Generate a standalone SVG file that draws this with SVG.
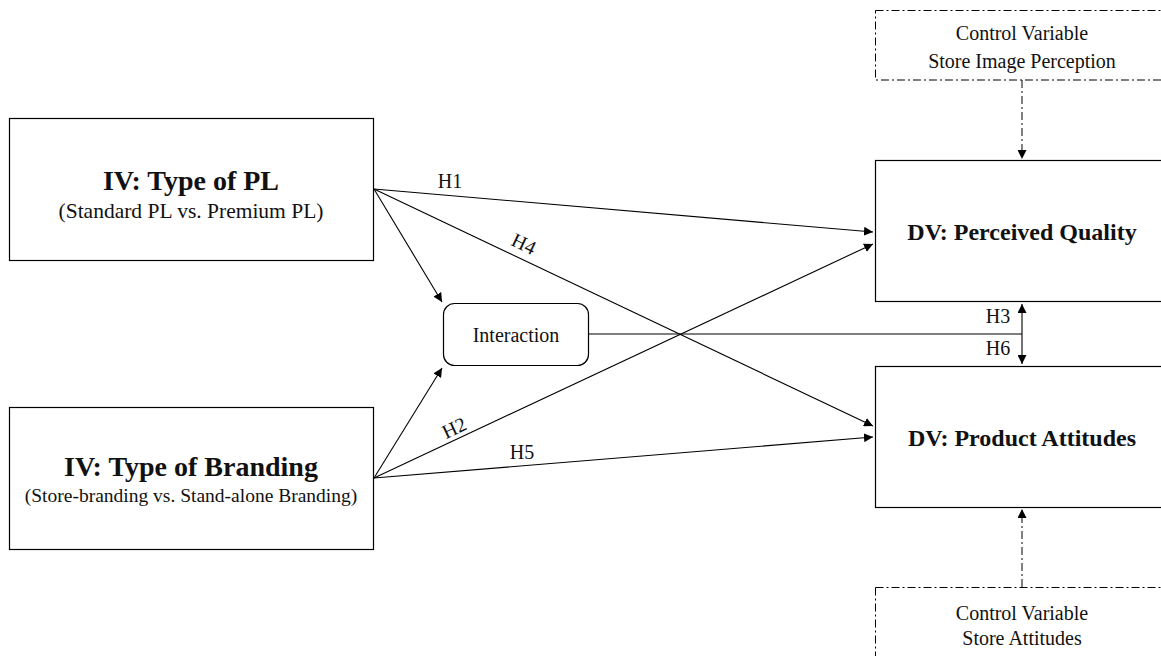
<svg xmlns="http://www.w3.org/2000/svg" width="1161" height="656" viewBox="0 0 1161 656">
  <defs>
    <marker id="arrow" viewBox="0 0 10 10" refX="10" refY="5" markerWidth="9" markerHeight="9" markerUnits="userSpaceOnUse" orient="auto-start-reverse">
      <path d="M0,0 L10,5 L0,10 z" fill="#000"/>
    </marker>
    <style>
      .box { fill: #fff; stroke: #000; stroke-width: 1.2; }
      .ctrl { fill: #fff; stroke: #000; stroke-width: 1; stroke-dasharray: 8 3 2 3; }
      .edge { fill: none; stroke: #000; stroke-width: 1.1; }
      .dash { fill: none; stroke: #000; stroke-width: 1; stroke-dasharray: 8 3 2 3; }
      text { font-family: "Liberation Serif", "DejaVu Serif", serif; fill: #111; text-anchor: middle; }
      .big { font-size: 28px; font-weight: bold; }
      .dv { font-size: 24px; font-weight: bold; }
      .sub { font-size: 21.5px; }
      .sub2 { font-size: 19.5px; }
      .small { font-size: 20px; }
      .lbl { font-size: 20px; }
    </style>
  </defs>

  <!-- connectors -->
  <g id="connectors">
    <line class="edge" x1="374" y1="189" x2="873" y2="232" marker-end="url(#arrow)"/>
    <line class="edge" x1="374" y1="189" x2="873" y2="426" marker-end="url(#arrow)"/>
    <line class="edge" x1="374" y1="189" x2="442" y2="302" marker-end="url(#arrow)"/>
    <line class="edge" x1="374" y1="478" x2="442" y2="368" marker-end="url(#arrow)"/>
    <line class="edge" x1="374" y1="478" x2="873" y2="244" marker-end="url(#arrow)"/>
    <line class="edge" x1="374" y1="478" x2="873" y2="437" marker-end="url(#arrow)"/>
    <line class="edge" x1="589" y1="334" x2="1022" y2="334"/>
    <line class="edge" x1="1022" y1="304" x2="1022" y2="364" marker-start="url(#arrow)" marker-end="url(#arrow)"/>
    <line class="dash" x1="1022" y1="80" x2="1022" y2="159" marker-end="url(#arrow)"/>
    <line class="dash" x1="1022" y1="587" x2="1022" y2="509" marker-end="url(#arrow)"/>
    <text class="lbl" x="450" y="188">H1</text>
    <text class="lbl" x="521" y="250" transform="rotate(25.3 521 250)">H4</text>
    <text class="lbl" x="457" y="434" transform="rotate(-25 457 434)">H2</text>
    <text class="lbl" x="522" y="459">H5</text>
    <text class="lbl" x="998" y="323">H3</text>
    <text class="lbl" x="998" y="355">H6</text>
  </g>

  <g id="iv-pl">
    <rect class="box" x="9.5" y="118.5" width="364" height="142"/>
    <text class="big" x="191" y="190">IV: Type of  PL</text>
    <text class="sub" x="191" y="218">(Standard PL vs. Premium PL)</text>
  </g>

  <g id="iv-branding">
    <rect class="box" x="9.5" y="407.5" width="364" height="142"/>
    <text class="big" x="191" y="476">IV: Type of  Branding</text>
    <text class="sub2" x="191" y="502">(Store-branding vs. Stand-alone Branding)</text>
  </g>

  <g id="interaction">
    <rect class="box" x="443.5" y="303.5" width="145" height="62" rx="11" ry="11"/>
    <text class="small" x="516" y="342">Interaction</text>
  </g>

  <g id="dv-quality">
    <rect class="box" x="875.5" y="160.5" width="300" height="141"/>
    <text class="dv" x="1022" y="240">DV: Perceived Quality</text>
  </g>

  <g id="dv-attitudes">
    <rect class="box" x="875.5" y="366.5" width="300" height="141"/>
    <text class="dv" x="1022" y="446">DV: Product Attitudes</text>
  </g>

  <g id="control-image">
    <rect class="ctrl" x="875.5" y="10.5" width="300" height="69.5"/>
    <text class="small" x="1022" y="40">Control Variable</text>
    <text class="small" x="1022" y="68">Store Image Perception</text>
  </g>

  <g id="control-store">
    <rect class="ctrl" x="875.5" y="587.5" width="300" height="80"/>
    <text class="small" x="1022" y="620">Control Variable</text>
    <text class="small" x="1022" y="645">Store Attitudes</text>
  </g>
</svg>
